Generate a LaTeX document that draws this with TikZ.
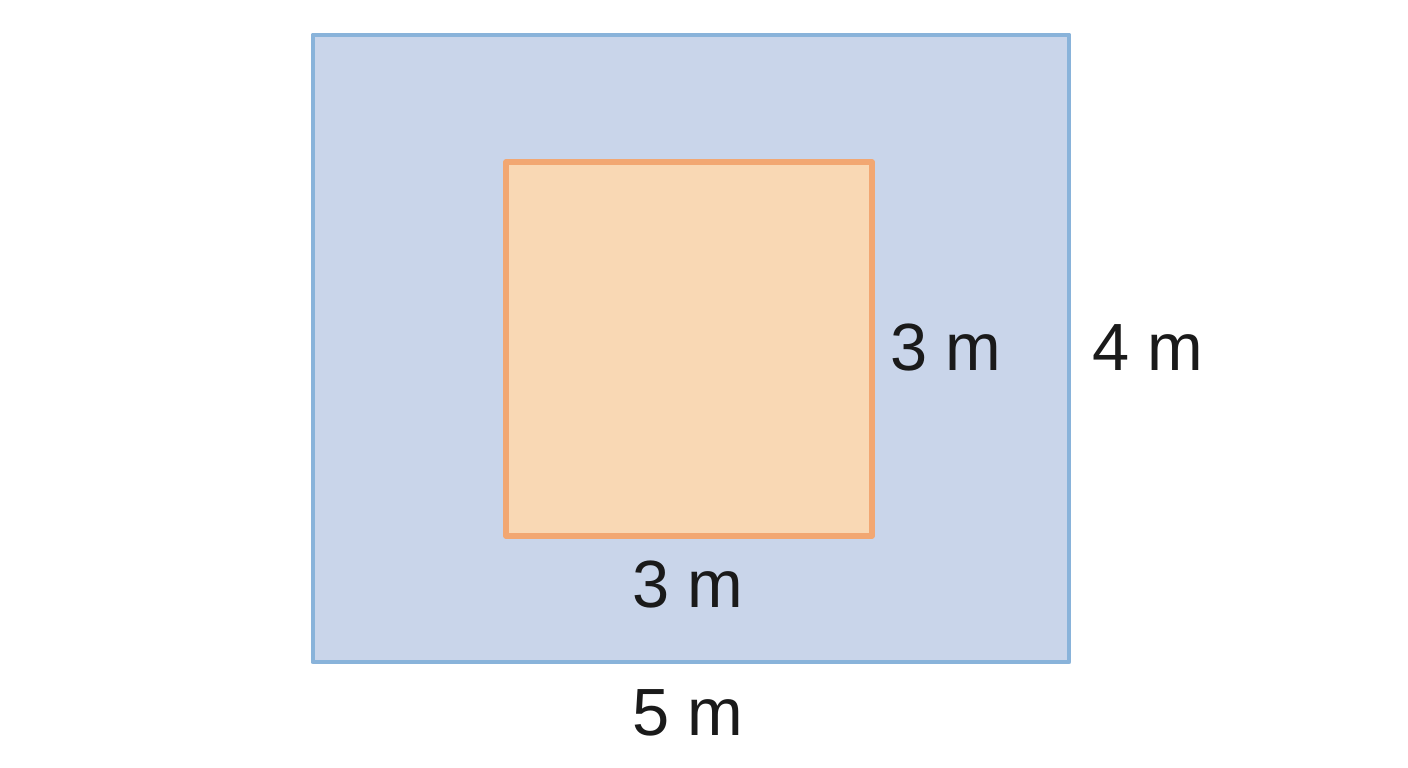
\documentclass[tikz,border=0pt]{standalone}
\usepackage{fontspec}
\setmainfont{Liberation Sans}
\usepackage{xcolor}
\usepackage{tikz}
\usetikzlibrary{positioning}

\definecolor{outerfill}{HTML}{C9D5EA}
\definecolor{outerline}{HTML}{89B3DA}
\definecolor{innerfill}{HTML}{F9D8B4}
\definecolor{innerline}{HTML}{F2A772}
\definecolor{labelink}{HTML}{1A1A1A}

\begin{document}
\begin{tikzpicture} [
          outer/.style = {fill = outerfill, draw = outerline, line width = 2.8pt, line join = round},
          inner/.style = {fill = innerfill, draw = innerline, line width = 3.2pt, line join = round},
          size/.style = {font = \fontsize{38}{41}\selectfont, text = labelink, inner sep = 0pt}
          ]
          \useasboundingbox (0,0) rectangle (28.16,15.36);

          % Areas
          \draw [outer] (6.26,2.12) rectangle (21.38,14.66);
          \draw [inner] (10.12,4.64) rectangle (17.44,12.12);

          % Lengths
          \node (side) [size] at (18.92,8.40) {3 m};
          \node (height) [size] at (22.96,8.40) {4 m};
          \node (base) [size] at (13.76,3.66) {3 m};
          \node (width) [size] at (13.76,1.10) {5 m};

        \end{tikzpicture}
\end{document}
